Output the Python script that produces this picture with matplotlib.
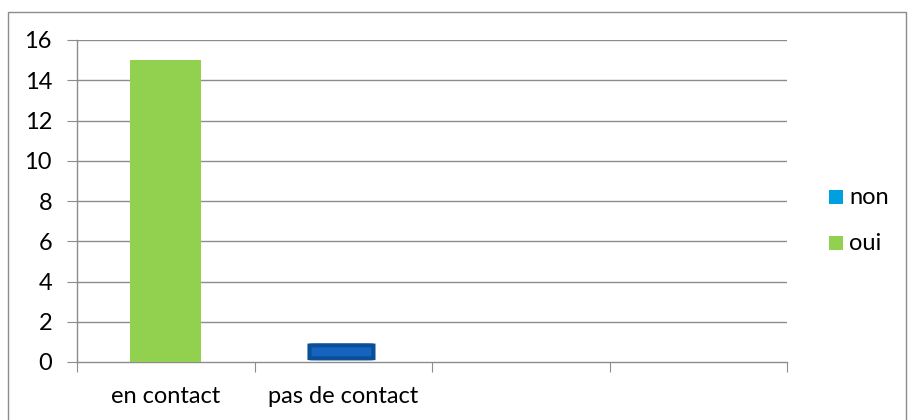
import matplotlib
matplotlib.use("Agg")
import matplotlib.pyplot as plt
from matplotlib.patches import FancyBboxPatch, Rectangle

categories = ["en contact", "pas de contact", "", ""]
oui_values = [15, 0, 0, 0]
non_values = [0, 0.65, 0, 0]
non_base = [0, 0.18, 0, 0]
y_ticks = [0, 2, 4, 6, 8, 10, 12, 14, 16]

W, H, DPI = 908, 420, 100
fig = plt.figure(figsize=(W / DPI, H / DPI), dpi=DPI)
plt.rcParams['font.family'] = ['Lato', 'DejaVu Sans']
FS = 17

# outer chart border
fig.patches.append(Rectangle((8 / W, -0.01), (906 - 8) / W, 1 - 12 / H + 0.01,
                             transform=fig.transFigure, fill=False,
                             edgecolor="#8c8c8c", linewidth=1.0))

ax = fig.add_axes([77 / W, 1 - 362 / H, (787 - 77) / W, (362 - 40) / H])
n = len(categories)
ax.set_xlim(0, n)
ax.set_ylim(0, 16)

grid_c = "#8c8c8c"
for y in y_ticks[1:]:
    ax.axhline(y, color=grid_c, linewidth=1.0, zorder=1)

centers = [i + 0.5 for i in range(n)]
bw = 0.4
ax.bar(centers, oui_values, width=bw, color="#92d050", zorder=3, label="oui")

for c, v, b in zip(centers, non_values, non_base):
    if v > 0:
        p = FancyBboxPatch((c - bw / 2 + 0.01, b), bw - 0.04, v,
                           boxstyle="round,pad=0,rounding_size=0.04",
                           mutation_aspect=0.3,
                           facecolor="#1565c0", edgecolor="#0b4f98",
                           linewidth=3.0, zorder=3)
        ax.add_patch(p)

for s in ["top", "right"]:
    ax.spines[s].set_visible(False)
for s in ["left", "bottom"]:
    ax.spines[s].set_color(grid_c)
    ax.spines[s].set_linewidth(1.0)

ax.set_yticks(y_ticks)
ax.set_yticklabels([str(t) for t in y_ticks])
ax.set_xticks(range(n + 1))
ax.set_xticklabels([])
ax.tick_params(axis="y", length=7, color=grid_c, labelsize=FS, pad=11)
ax.tick_params(axis="x", length=7, color=grid_c)
for c, lab in zip(centers, categories):
    ax.text(c, -1.7, lab, ha="center", va="center", fontsize=FS,
            transform=ax.transData, clip_on=False)

# legend
lx = 829 / W
for yy, col, lab in [(197, "#00a0e0", "non"), (243, "#92d050", "oui")]:
    fig.patches.append(Rectangle((lx, 1 - (yy + 7) / H), 14 / W, 14 / H,
                                 transform=fig.transFigure, facecolor=col,
                                 edgecolor="none"))
    fig.text(lx + 20 / W, 1 - yy / H, lab, fontsize=FS, va="center", ha="left")

fig.savefig("out.png", dpi=DPI)
